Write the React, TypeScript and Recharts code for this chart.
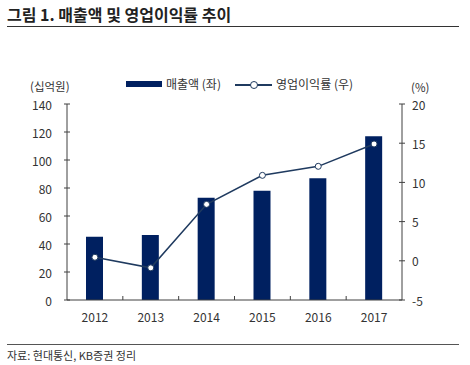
import { ComposedChart, Bar, Line, XAxis, YAxis } from "recharts";

const years = ["2012", "2013", "2014", "2015", "2016", "2017"];
const revenue = [45.2, 46.4, 73, 78, 87, 117];
const margin = [0.45, -0.9, 7.2, 10.9, 12.05, 14.9];
const leftTicks = [0, 20, 40, 60, 80, 100, 120, 140];
const rightTicks = [-5, 0, 5, 10, 15, 20];

const data = years.map((year, i) => ({ year, revenue: revenue[i], margin: margin[i] }));

const NAVY = "#002060";
const LINE = "#1f3a5f";
const AXIS = "#404040";
const FONT = "'Noto Sans CJK KR', 'Noto Sans', sans-serif";

function LeftTick(props: any) {
  const { x, y, payload } = props;
  return (
    <g>
      <line x1={x - 3} x2={x + 3} y1={y} y2={y} stroke={AXIS} />
      <text x={x - 15} y={y} textAnchor="end" dominantBaseline="central" fontSize={12} fill="#333">
        {payload.value}
      </text>
    </g>
  );
}

function RightTick(props: any) {
  const { x, y, payload } = props;
  return (
    <g>
      <line x1={x - 3} x2={x + 3} y1={y} y2={y} stroke={AXIS} />
      <text x={x + 10} y={y} textAnchor="start" dominantBaseline="central" fontSize={12} fill="#333">
        {payload.value}
      </text>
    </g>
  );
}

function YearTick(props: any) {
  const { x, y, payload, index } = props;
  const off = payload.offset ?? 0;
  return (
    <g>
      {index < years.length - 1 && (
        <line x1={x + off} x2={x + off} y1={y - 4} y2={y} stroke={AXIS} />
      )}
      <text x={x} y={y + 16} textAnchor="middle" dominantBaseline="central" fontSize={12} fill="#333">
        {payload.value}
      </text>
    </g>
  );
}

export default function App() {
  return (
    <div
      style={{
        position: "fixed",
        left: 0,
        top: 0,
        width: 470,
        height: 365,
        background: "#fff",
        fontFamily: FONT,
        color: "#333",
      }}
    >
      <div style={{ position: "absolute", left: 7, top: 2, fontSize: 16, fontWeight: 700, color: "#222" }}>
        그림 1. 매출액 및 영업이익률 추이
      </div>
      <div style={{ position: "absolute", left: 7, top: 26, width: 452, height: 1, background: "#333" }} />

      <div style={{ position: "absolute", left: 126, top: 81, width: 36, height: 6, background: NAVY }} />
      <div style={{ position: "absolute", left: 166, top: 75, fontSize: 12 }}>매출액 (좌)</div>
      <div style={{ position: "absolute", left: 235, top: 84, width: 37, height: 1.5, background: LINE }} />
      <div
        style={{
          position: "absolute",
          left: 250,
          top: 81,
          width: 6,
          height: 6,
          borderRadius: "50%",
          border: `1px solid ${LINE}`,
          background: "#fff",
        }}
      />
      <div style={{ position: "absolute", left: 276, top: 75, fontSize: 12 }}>영업이익률 (우)</div>

      <div style={{ position: "absolute", left: 30, top: 79, fontSize: 11.5, lineHeight: "15px" }}>(십억원)</div>
      <div style={{ position: "absolute", left: 411, top: 80, fontSize: 11.5, lineHeight: "15px" }}>(%)</div>

      <div style={{ position: "absolute", left: 0, top: 0 }}>
        <ComposedChart
          width={470}
          height={365}
          data={data}
          margin={{ top: 104, right: 0, bottom: 35, left: 0 }}
          style={{ fontFamily: FONT }}
        >
          <XAxis
            dataKey="year"
            height={30}
            axisLine={{ stroke: AXIS }}
            tickLine={false}
            tickSize={0}
            tickMargin={0}
            tick={<YearTick />}
            interval={0}
          />
          <YAxis
            yAxisId="left"
            width={67}
            domain={[0, 140]}
            ticks={leftTicks}
            axisLine={{ stroke: AXIS }}
            tickLine={false}
            tickSize={0}
            tickMargin={0}
            tick={<LeftTick />}
            interval={0}
          />
          <YAxis
            yAxisId="right"
            orientation="right"
            width={68}
            domain={[-5, 20]}
            ticks={rightTicks}
            axisLine={{ stroke: AXIS }}
            tickLine={false}
            tickSize={0}
            tickMargin={0}
            tick={<RightTick />}
            interval={0}
          />
          <Bar yAxisId="left" dataKey="revenue" fill={NAVY} barSize={17} isAnimationActive={false} />
          <Line
            yAxisId="right"
            dataKey="margin"
            type="linear"
            stroke={LINE}
            strokeWidth={1.5}
            dot={{ r: 3, fill: "#fff", stroke: LINE, strokeWidth: 1 }}
            isAnimationActive={false}
          />
        </ComposedChart>
      </div>

      <div style={{ position: "absolute", left: 7, top: 344, width: 452, height: 1, background: "#555" }} />
      <div style={{ position: "absolute", left: 7, top: 347, fontSize: 11 }}>자료: 현대통신, KB증권 정리</div>
    </div>
  );
}
